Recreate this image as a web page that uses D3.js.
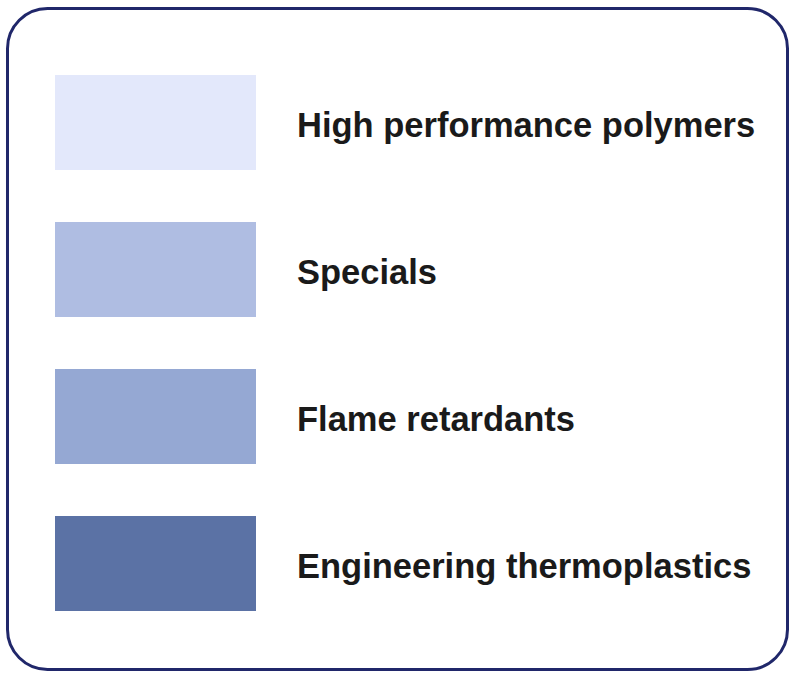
<!DOCTYPE html>
<html>
<head>
<meta charset="utf-8">
<script src="https://cdn.jsdelivr.net/npm/d3@7"></script>
<style>
  body { margin: 0; background: #fff; }
  svg { display: block; }
</style>
</head>
<body>
<div id="chart"></div>
<script>
// legend entries and their fills
var categories = ["High performance polymers", "Specials", "Flame retardants", "Engineering thermoplastics"];
var colors = ["#e3e8fb", "#afbde2", "#95a8d3", "#5b72a5"];

var width = 791, height = 673;

var svg = d3.select("#chart")
  .append("svg")
  .attr("width", width)
  .attr("height", height);

// rounded frame
svg.append("rect")
  .attr("x", 7.5)
  .attr("y", 8.5)
  .attr("width", 780)
  .attr("height", 661)
  .attr("rx", 40)
  .attr("ry", 40)
  .attr("fill", "#fff")
  .attr("stroke", "#20276a")
  .attr("stroke-width", 3);

// swatches 95px tall, 147px apart
var y = d3.scaleBand()
  .domain(categories)
  .range([75, 611])
  .paddingInner(52 / 147)
  .paddingOuter(0);

var color = d3.scaleOrdinal().domain(categories).range(colors);

var items = svg.selectAll("g.item")
  .data(categories)
  .enter()
  .append("g")
  .attr("class", "item")
  .attr("transform", function (d) {
    return "translate(0," + y(d) + ")";
  });

items.append("rect")
  .attr("x", 55)
  .attr("width", 201)
  .attr("height", y.bandwidth())
  .attr("fill", function (d) { return color(d); });

items.append("text")
  .attr("x", 297)
  .attr("y", y.bandwidth() / 2 + 14)
  .attr("font-family", "Liberation Sans, Arial, sans-serif")
  .attr("font-weight", "bold")
  .attr("font-size", 34.5)
  .attr("fill", "#1a1a1a")
  .text(function (d) { return d; });
</script>
</body>
</html>
